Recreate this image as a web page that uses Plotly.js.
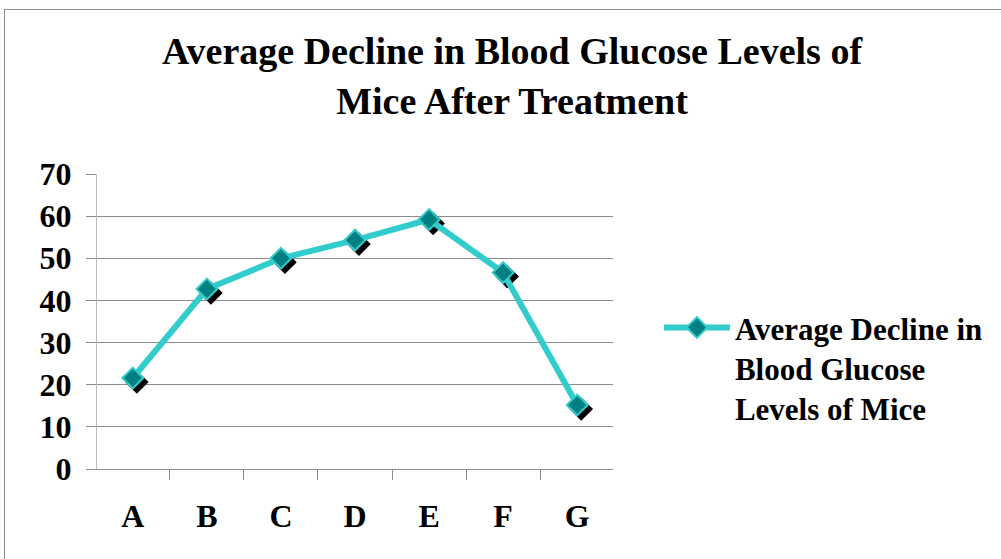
<!DOCTYPE html>
<html>
<head>
<meta charset="utf-8">
<script src="https://cdn.plot.ly/plotly-3.0.1.min.js"></script>
<style>
  html, body { margin: 0; padding: 0; background: #fff; }
  #wrap { position: relative; width: 1001px; height: 559px; overflow: hidden; }
  #chart { width: 1001px; height: 559px; }
  #frame { position: absolute; left: 4px; top: 9px; width: 1100px; height: 700px;
           border-left: 1px solid #8c8c8c; border-top: 1px solid #8c8c8c; pointer-events: none; }
</style>
</head>
<body>
<div id="wrap">
  <div id="chart"></div>
  <div id="frame"></div>
</div>
<script>
const categories = ["A", "B", "C", "D", "E", "F", "G"];
const declineValues = [21.6, 42.7, 50.0, 54.3, 59.2, 46.6, 15.2];
const seriesName = "Average Decline in<br>Blood Glucose<br>Levels of Mice";
const chartTitle = "Average Decline in Blood Glucose Levels of<br>Mice After Treatment";
const yTicks = [0, 10, 20, 30, 40, 50, 60, 70];

const serif = "'Liberation Serif', 'Times New Roman', serif";

const shadowTrace = {
  x: categories, y: declineValues, type: "scatter", mode: "markers",
  showlegend: false, hoverinfo: "skip",
  marker: { symbol: "diamond", size: 16, color: "#000000", line: { color: "#000000", width: 2 } }
};
const mainTrace = {
  x: categories, y: declineValues, type: "scatter", mode: "lines+markers",
  name: seriesName,
  line: { color: "#33CCCC", width: 6 },
  marker: { symbol: "diamond", size: 16, color: "#008080", line: { color: "#33CCCC", width: 2 } }
};

const layout = {
  width: 1001, height: 559,
  margin: { l: 97, r: 388, t: 174, b: 90 },
  paper_bgcolor: "#ffffff", plot_bgcolor: "#ffffff",
  font: { family: serif, color: "#000000", weight: "bold" },
  title: {
    text: chartTitle, xref: "container", x: 0.5115, xanchor: "center",
    yref: "container", y: 0.885, yanchor: "top",
    font: { family: serif, size: 38, weight: "bold", color: "#000" }
  },
  xaxis: {
    type: "category", categoryorder: "array", categoryarray: categories,
    showgrid: false, showline: true, linecolor: "#8c8c8c", linewidth: 1,
    ticks: "outside", tickson: "boundaries", ticklen: 10, tickcolor: "#8c8c8c",
    ticklabelstandoff: 19,
    tickfont: { family: serif, size: 32, weight: "bold", color: "#000" },
    zeroline: false, fixedrange: true
  },
  yaxis: {
    range: [0, 70], tickvals: yTicks, ticktext: yTicks.map(String),
    showgrid: true, gridcolor: "#8c8c8c", gridwidth: 1,
    showline: true, linecolor: "#bdbdbd", linewidth: 1,
    ticks: "outside", ticklen: 10, tickcolor: "#8c8c8c",
    ticklabelstandoff: 8,
    tickfont: { family: serif, size: 32, weight: "bold", color: "#000" },
    zeroline: false, fixedrange: true
  },
  legend: {
    x: 1.089, xanchor: "left", y: 0.57, yanchor: "top",
    itemwidth: 66, valign: "top",
    font: { family: serif, size: 31, weight: "bold", color: "#000" },
    bgcolor: "rgba(0,0,0,0)"
  },
  showlegend: true
};

Plotly.newPlot("chart", [shadowTrace, mainTrace], layout, { staticPlot: true }).then(function (gd) {
  const pts = gd.querySelectorAll(".scatterlayer .trace")[0].querySelector(".points");
  if (pts) pts.setAttribute("transform", "translate(4,4)");
});
</script>
</body>
</html>
